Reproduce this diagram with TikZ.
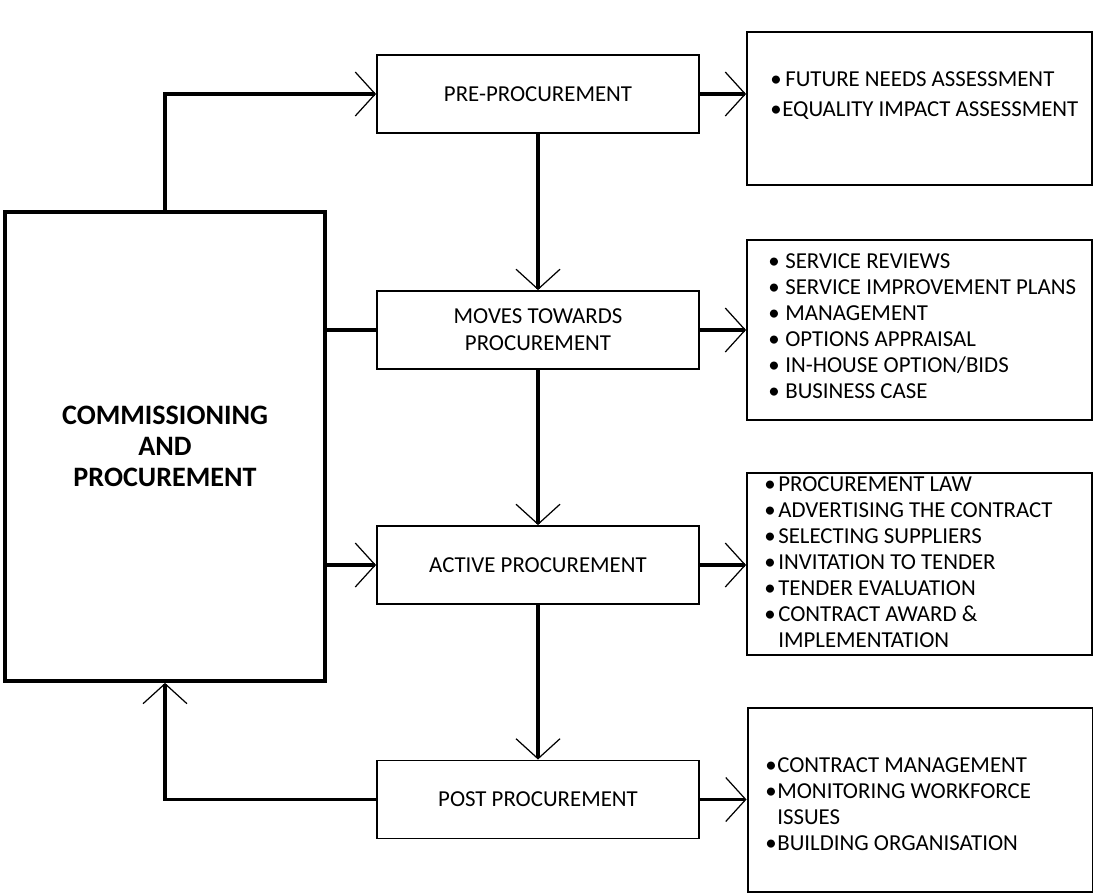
\documentclass[tikz,border=0pt]{standalone}
\usepackage{fontspec}
\setmainfont{Carlito}
\usetikzlibrary{arrows.meta}
\newcommand{\bitem}[2][0.34cm]{\makebox[#1][l]{\textbullet}#2}
\newcommand{\bcont}[2][0.28cm]{\hspace*{#1}#2}

\begin{document}
\begin{tikzpicture}[x=0.02cm,y=-0.02cm,
    procMain/.style={draw,line width=2.2pt,minimum width=6.4cm,minimum height=9.38cm,align=center,font=\fontsize{16}{17.6}\selectfont\bfseries},
    procStage/.style={draw,line width=1.1pt,minimum width=6.44cm,minimum height=1.56cm,align=center,inner sep=0pt,font=\fontsize{13}{15.4}\selectfont},
    procInfo/.style={draw,line width=1.1pt,minimum width=6.9cm,inner sep=0pt},
    procList/.style={align=left,anchor=west,inner sep=0pt,font=\fontsize{13}{14.8}\selectfont},
    procConn/.style={line width=2.2pt,-{Straight Barb[length=0.4cm,width=0.88cm,line width=0.7pt]}},
    procLink/.style={line width=2.2pt},
]
\useasboundingbox (0,0) rectangle (1093,893);
% Main box
\node[procMain] (cp) at (165,446.5) {COMMISSIONING\\AND\\PROCUREMENT};
% Stages
\node[procStage] (pre) at (538,94) {PRE-PROCUREMENT};
\node[procStage] (moves) at (538,330) {MOVES TOWARDS\\PROCUREMENT};
\node[procStage] (active) at (538,565) {ACTIVE PROCUREMENT};
\node[procStage] (post) at (538,799.5) {POST PROCUREMENT};
% Detail boxes
\node[procInfo,minimum height=3.06cm] (i1) at (919.5,108.5) {};
\node[procInfo,minimum height=3.6cm] (i2) at (919.5,330) {};
\node[procInfo,minimum height=3.64cm] (i3) at (919.5,564) {};
\node[procInfo,minimum height=3.68cm] (i4) at (920,800) {};
% Lists
\node[procList,font=\fontsize{13}{17}\selectfont] (l1) at (770,95.5)
    {\bitem[0.3cm]{FUTURE NEEDS ASSESSMENT}\\\bitem[0.24cm]{EQUALITY IMPACT ASSESSMENT}};
\node[procList] (l2) at (768,326.5)
    {\bitem{SERVICE REVIEWS}\\\bitem{SERVICE IMPROVEMENT PLANS}\\\bitem{MANAGEMENT}\\
     \bitem{OPTIONS APPRAISAL}\\\bitem{IN-HOUSE OPTION/BIDS}\\\bitem{BUSINESS CASE}};
\node[procList] (l3) at (764,562.5)
    {\bitem[0.28cm]{PROCUREMENT LAW}\\\bitem[0.28cm]{ADVERTISING THE CONTRACT}\\
     \bitem[0.28cm]{SELECTING SUPPLIERS}\\\bitem[0.28cm]{INVITATION TO TENDER}\\
     \bitem[0.28cm]{TENDER EVALUATION}\\\bitem[0.28cm]{CONTRACT AWARD \&}\\\bcont{IMPLEMENTATION}};
\node[procList] (l4) at (765,804.5)
    {\bitem[0.24cm]{CONTRACT MANAGEMENT}\\\bitem[0.24cm]{MONITORING WORKFORCE}\\
     \bcont[0.24cm]{ISSUES}\\\bitem[0.24cm]{BUILDING ORGANISATION}};
% Connectors
\draw[procConn] (cp.north) |- (pre.west);
\draw[procLink] (cp.east |- moves.west) -- (moves.west);
\draw[procConn] (cp.east |- active.west) -- (active.west);
\draw[procConn] (post.west) -| (cp.south);
\draw[procConn] (pre.south) -- (moves.north);
\draw[procConn] (moves.south) -- (active.north);
\draw[procConn] (active.south) -- (post.north);
\draw[procConn] (pre.east) -- (pre.east -| i1.west);
\draw[procConn] (moves.east) -- (moves.east -| i2.west);
\draw[procConn] (active.east) -- (active.east -| i3.west);
\draw[procConn] (post.east) -- (post.east -| i4.west);
\end{tikzpicture}
\end{document}
